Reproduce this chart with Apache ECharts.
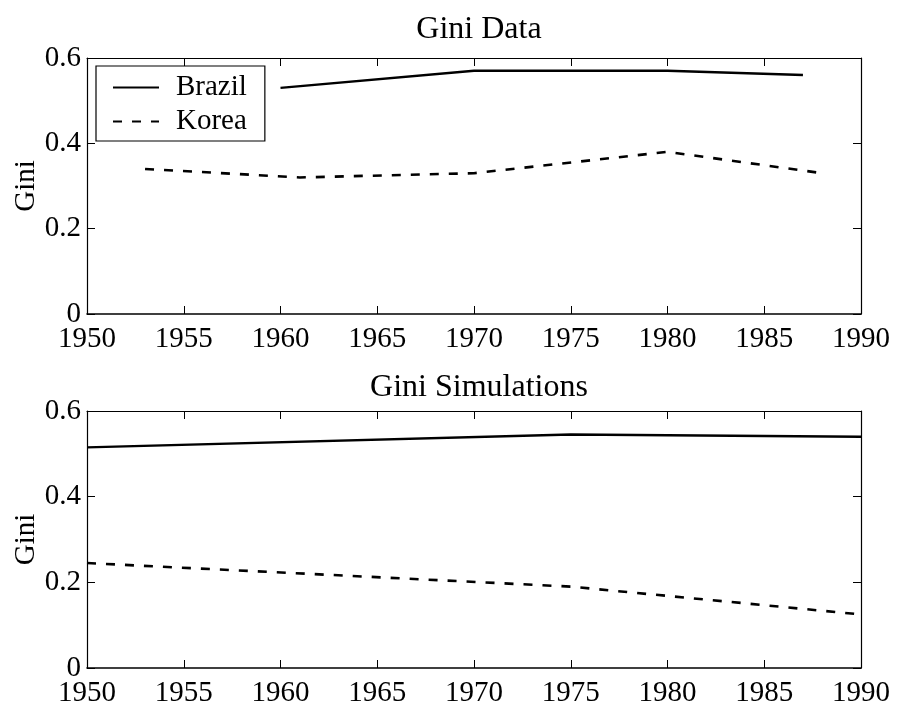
<!DOCTYPE html>
<html>
<head>
<meta charset="utf-8">
<script src="https://cdn.jsdelivr.net/npm/echarts@6/dist/echarts.min.js"></script>
<style>
  html, body { margin: 0; padding: 0; background: #fff; }
  #chart { width: 897px; height: 710px; }
</style>
</head>
<body>
<div id="chart"></div>
<script>
// Observed Gini coefficients
const dataYearsBrazil = [1960, 1970, 1980, 1987];
const dataGiniBrazil  = [0.53, 0.57, 0.57, 0.56];
const dataYearsKorea  = [1953, 1961, 1970, 1980, 1988];
const dataGiniKorea   = [0.34, 0.32, 0.33, 0.38, 0.33];

// Simulated Gini coefficients
const simYears       = [1950, 1975, 1990];
const simGiniBrazil  = [0.515, 0.545, 0.54];
const simGiniKorea   = [0.245, 0.19, 0.125];

// Axis ticks
const yearTicks = { min: 1950, max: 1990, interval: 5 };
const giniTicks = { min: 0, max: 0.6, interval: 0.2 };

const FONT = 'Liberation Serif';
const FS = 29;
const TITLE_FS = 32;

const pairs = (xs, ys) => xs.map((x, i) => [x, ys[i]]);

function xAxes(gridIndex) {
  const base = {
    type: 'value', gridIndex,
    min: yearTicks.min, max: yearTicks.max, interval: yearTicks.interval,
    splitLine: { show: false },
    axisTick: { show: true, inside: true, length: 8, lineStyle: { color: '#000', width: 1 } }
  };
  return [
    Object.assign({}, base, {
      position: 'bottom',
      axisLine: { show: true, onZero: false, lineStyle: { color: '#000', width: 1.6 } },
      axisLabel: { show: true, color: '#000', fontFamily: FONT, fontSize: FS, margin: 11,
        formatter: v => String(v) }
    }),
    Object.assign({}, base, {
      position: 'top',
      axisLine: { show: true, onZero: false, lineStyle: { color: '#000', width: 1 } },
      axisLabel: { show: false }
    })
  ];
}

function yAxes(gridIndex) {
  const base = {
    type: 'value', gridIndex,
    min: giniTicks.min, max: giniTicks.max, interval: giniTicks.interval,
    splitLine: { show: false },
    axisTick: { show: true, inside: true, length: 8, lineStyle: { color: '#000', width: 1 } }
  };
  return [
    Object.assign({}, base, {
      position: 'left',
      name: 'Gini', nameLocation: 'middle', nameGap: 46, nameMoveOverlap: false,
      nameTextStyle: { color: '#000', fontFamily: FONT, fontSize: FS },
      axisLine: { show: true, onZero: false, lineStyle: { color: '#000', width: 1.2 } },
      axisLabel: { show: true, color: '#000', fontFamily: FONT, fontSize: FS, margin: 6,
        formatter: v => (v === 0 ? '0' : v.toFixed(1)) }
    }),
    Object.assign({}, base, {
      position: 'right',
      axisLine: { show: true, onZero: false, lineStyle: { color: '#000', width: 1.2 } },
      axisLabel: { show: false }
    })
  ];
}

const solid = { color: '#000', width: 2.4, type: 'solid' };
const dashed = { color: '#000', width: 2.6, type: [9, 10] };

const option = {
  animation: false,
  backgroundColor: '#fff',
  color: ['#000', '#000', '#000', '#000'],
  title: [
    { text: 'Gini Data', left: 474, textAlign: 'center', top: 9,
      textStyle: { fontFamily: FONT, fontSize: TITLE_FS, fontWeight: 'normal', color: '#000' } },
    { text: 'Gini Simulations', left: 474, textAlign: 'center', top: 367,
      textStyle: { fontFamily: FONT, fontSize: TITLE_FS, fontWeight: 'normal', color: '#000' } }
  ],
  legend: {
    left: 96, top: 66,
    orient: 'vertical',
    data: ['Brazil', 'Korea'],
    itemWidth: 46, itemHeight: 20, itemGap: 5,
    padding: [7, 18, 5, 16],
    borderColor: '#000', borderWidth: 1.2,
    backgroundColor: '#fff',
    itemStyle: { opacity: 0 },
    textStyle: { fontFamily: FONT, fontSize: FS, color: '#000', lineHeight: 29,
      padding: [0, 0, 0, 12] },
    selectedMode: false
  },
  grid: [
    { left: 87, right: 36, top: 58, height: 256 },
    { left: 87, right: 36, top: 411, height: 257 }
  ],
  xAxis: [...xAxes(0), ...xAxes(1)],
  yAxis: [...yAxes(0), ...yAxes(1)],
  series: [
    { name: 'Brazil', type: 'line', xAxisIndex: 0, yAxisIndex: 0, symbol: 'none',
      itemStyle: { color: '#000' }, lineStyle: solid, data: pairs(dataYearsBrazil, dataGiniBrazil) },
    { name: 'Korea', type: 'line', xAxisIndex: 0, yAxisIndex: 0, symbol: 'none',
      itemStyle: { color: '#000' }, lineStyle: dashed, data: pairs(dataYearsKorea, dataGiniKorea) },
    { name: 'Brazil sim', type: 'line', xAxisIndex: 2, yAxisIndex: 2, symbol: 'none',
      itemStyle: { color: '#000' }, lineStyle: solid, data: pairs(simYears, simGiniBrazil) },
    { name: 'Korea sim', type: 'line', xAxisIndex: 2, yAxisIndex: 2, symbol: 'none',
      itemStyle: { color: '#000' }, lineStyle: dashed, data: pairs(simYears, simGiniKorea) }
  ]
};

const chart = echarts.init(document.getElementById('chart'), null, { renderer: 'canvas' });
chart.setOption(option);
</script>
</body>
</html>
